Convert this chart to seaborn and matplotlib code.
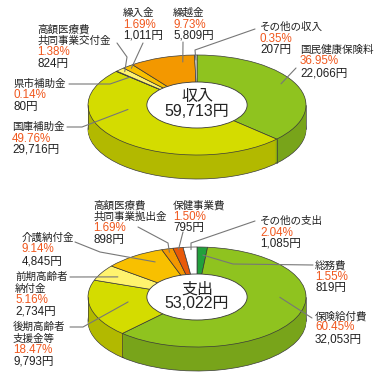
import numpy as np
import matplotlib
matplotlib.use('Agg')
import matplotlib.pyplot as plt
import matplotlib.colors as mcolors
import seaborn as sns

# 収入
inc_names = ['国民健康保険料', '国庫補助金', '県市補助金', '高額医療費\n共同事業交付金',
             '繰入金', '繰越金', 'その他の収入']
inc_pct = [36.95, 49.76, 0.14, 1.38, 1.69, 9.73, 0.35]
inc_amt = [22066, 29716, 80, 824, 1011, 5809, 207]
inc_total = 59713

# 支出
exp_names = ['総務費', '保険給付費', '後期高齢者\n支援金等', '前期高齢者\n納付金', '介護納付金',
             '高額医療費\n共同事業拠出金', '保健事業費', 'その他の支出']
exp_pct = [1.55, 60.45, 18.47, 5.16, 9.14, 1.69, 1.50, 2.04]
exp_amt = [819, 32053, 9793, 2734, 4845, 898, 795, 1085]
exp_total = 53022

inc_colors = ['#8fc31f', '#d4dc00', '#f2ee8a', '#fff36e', '#f8c000', '#f39800', '#ececec']
exp_colors = ['#22a03c', '#8fc31f', '#d4dc00', '#fff36e', '#f8c000', '#f39800', '#e85a0a', '#ffffff']

# label layout in pixels (from top-left)
inc_text_xy = [(300, 50), (12, 127), (13, 84), (37, 29), (123, 13), (173, 13), (260, 27)]
inc_leader = [[(296, 68)], [(67, 127), (82, 127)], [(69, 84), (110, 84)],
              [(117, 43), (127, 57)], [(143, 43)], [(183, 42)], [(255, 29), (195, 50)]]
inc_frac = [0.46, 0.72, 0.5, 0.5, 0.5, 0.79, 0.5]
inc_r = [0.88, 0.64, 0.83, 0.94, 0.95, 0.87, 0.9]

exp_text_xy = [(315, 265), (315, 316), (13, 327), (15, 277), (22, 238), (93, 205), (173, 205), (260, 221)]
exp_leader = [[(313, 265), (233, 264)], [(312, 318)], [(70, 327), (83, 327)], [(70, 277)],
              [(75, 242), (100, 252)], [(138, 227), (168, 243)], [(183, 232)], [(255, 221), (191, 243)]]
exp_frac = [0.66, 0.39, 0.57, 0.5, 0.7, 0.5, 0.5, 0.55]
exp_r = [0.84, 0.76, 0.64, 0.83, 0.8, 0.93, 0.97, 0.95]

sns.set_theme(style='white')
plt.rcParams['font.family'] = ['Liberation Sans', 'Noto Sans CJK JP']

SX, SY = 109, 50      # ellipse semi-axes in px
THICK = 24            # side height in px
HOLE = 0.46
EDGE = '#3a3a3a'
PCT_COLOR = '#f0581e'
TXT_COLOR = '#222222'
LS = 11.5


def D(px, py):
    return px / SX, -py / SY


fig = plt.figure(figsize=(3.8, 3.81), dpi=100)
ax = fig.add_axes([0, 0, 1, 1])


def draw_donut(pcts, colors, cx, cy, title, total):
    side = [tuple(np.array(mcolors.to_rgb(c)) * 0.84) for c in colors]
    for k in range(THICK, 0, -1):
        ax.pie(pcts, colors=side, startangle=90, counterclock=False, center=D(cx, cy + k),
               wedgeprops=dict(linewidth=0.5 if k == THICK else 0, edgecolor=EDGE))
    ax.pie(pcts, colors=colors, startangle=90, counterclock=False, center=D(cx, cy),
           wedgeprops=dict(linewidth=0.5, edgecolor=EDGE))
    ax.pie([1], colors=['white'], radius=HOLE, center=D(cx, cy),
           wedgeprops=dict(linewidth=0.6, edgecolor=EDGE))
    # vertical edges on the visible side
    cum = np.cumsum([0] + list(pcts))
    bounds = [90 - 360 * c / cum[-1] for c in cum[:-1]] + [0, 180]
    x0, y0 = D(cx, cy)
    for b in bounds:
        phi = np.deg2rad(b)
        if np.sin(phi) <= 1e-9:
            x = x0 + np.cos(phi)
            y = y0 + np.sin(phi)
            ax.plot([x, x], [y, y - THICK / SY], color=EDGE, lw=0.5)
    ax.text(*D(cx, cy - 8), title, ha='center', va='center', fontsize=11.5, color=TXT_COLOR)
    ax.text(*D(cx, cy + 7), f'{total:,}円', ha='center', va='center', fontsize=11.5, color=TXT_COLOR)
    return cum


def draw_labels(pcts, amts, names, cum, cx, cy, text_xy, leaders, fracs, rs):
    total = cum[-1]
    for i, name in enumerate(names):
        start = 360 * cum[i] / total
        span = 360 * pcts[i] / total
        phi = np.deg2rad(90 - (start + fracs[i] * span))
        ax_px = cx + rs[i] * SX * np.cos(phi)
        ax_py = cy - rs[i] * SY * np.sin(phi)
        pts = leaders[i] + [(ax_px, ax_py)]
        xs, ys = zip(*[D(p[0], p[1]) for p in pts])
        ax.plot(xs, ys, color='#777777', lw=0.8)
        tx, ty = text_xy[i]
        lines = name.split('\n')
        for j, ln in enumerate(lines):
            ax.text(*D(tx, ty + j * LS), ln, ha='left', va='center', fontsize=7.6, color=TXT_COLOR)
        n = len(lines)
        ax.text(*D(tx, ty + n * LS), f'{pcts[i]:.2f}%', ha='left', va='center',
                fontsize=8.4, color=PCT_COLOR)
        ax.text(*D(tx, ty + (n + 1) * LS), f'{amts[i]:,}円', ha='left', va='center',
                fontsize=8.4, color=TXT_COLOR)


cum1 = draw_donut(inc_pct, inc_colors, 197, 105, '収入', inc_total)
cum2 = draw_donut(exp_pct, exp_colors, 197, 297, '支出', exp_total)
draw_labels(inc_pct, inc_amt, inc_names, cum1, 197, 105, inc_text_xy, inc_leader, inc_frac, inc_r)
draw_labels(exp_pct, exp_amt, exp_names, cum2, 197, 297, exp_text_xy, exp_leader, exp_frac, exp_r)

ax.set_aspect('auto')
ax.set_xlim(0, 380 / SX)
ax.set_ylim(-381 / SY, 0)
ax.axis('off')

fig.savefig('out.png', dpi=100, facecolor='white')
